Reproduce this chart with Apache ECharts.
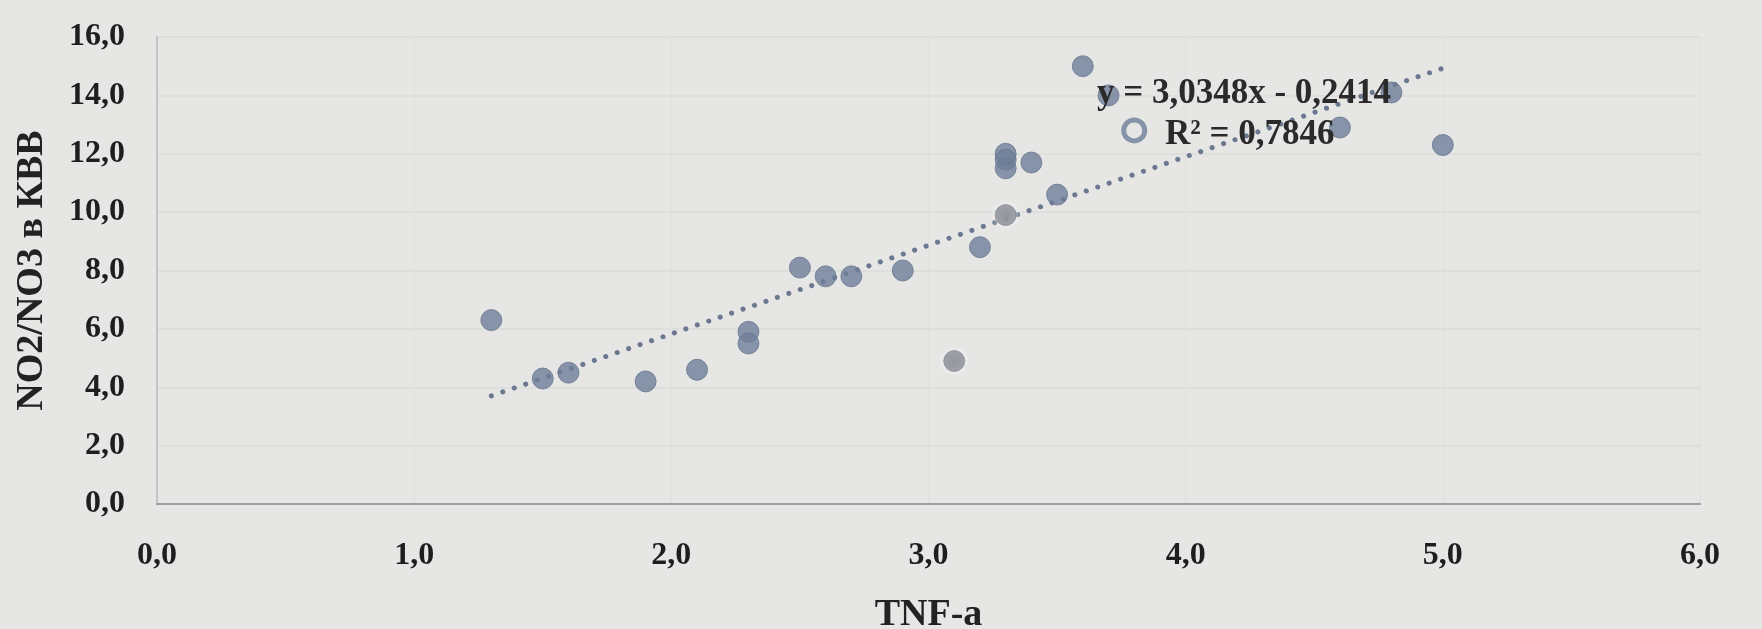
<!DOCTYPE html>
<html>
<head>
<meta charset="utf-8">
<script src="https://cdn.jsdelivr.net/npm/echarts@6/dist/echarts.min.js"></script>
<style>
  html, body { margin: 0; padding: 0; background: #e6e7e5; }
  #chart { width: 1762px; height: 629px; }
</style>
</head>
<body>
<div id="chart"></div>
<script>
// TNF-a against NO2/NO3 в КВВ, one point per sample
const tnfAlpha = [1.3, 1.5, 1.6, 1.9, 2.1, 2.3, 2.3, 2.5, 2.6, 2.7, 2.9, 3.1, 3.2,
                  3.3, 3.3, 3.3, 3.3, 3.4, 3.5, 3.6, 3.7, 3.8, 4.6, 4.8, 5.0];
const no2no3 = [6.3, 4.3, 4.5, 4.2, 4.6, 5.9, 5.5, 8.1, 7.8, 7.8, 8.0, 4.9, 8.8,
                9.9, 11.5, 11.8, 12.0, 11.7, 10.6, 15.0, 14.0, 12.8, 12.9, 14.1, 12.3];

// linear trend: y = slope * x + intercept
const trendSlope = 3.0348;
const trendIntercept = -0.2414;
const trendR2 = 0.7846;

const xTicks = [0, 1, 2, 3, 4, 5, 6];
const xTickLabels = ['0,0', '1,0', '2,0', '3,0', '4,0', '5,0', '6,0'];
const yTicks = [0, 2, 4, 6, 8, 10, 12, 14, 16];
const yTickLabels = ['0,0', '2,0', '4,0', '6,0', '8,0', '10,0', '12,0', '14,0', '16,0'];

// samples rendered in a softer grey tone, and one drawn as an open ring
const softPoints = [11, 13];
const ringPoints = [21];

const comma = (v, d) => v.toFixed(d).replace('.', ',');
const tickLabel = (ticks, labels) => v => {
  const i = ticks.findIndex(t => Math.abs(t - v) < 1e-9);
  return i >= 0 ? labels[i] : '';
};

const points = tnfAlpha.map((x, i) => {
  const p = { value: [x, no2no3[i]] };
  if (softPoints.includes(i)) {
    p.itemStyle = { color: '#7d8189', borderColor: '#8a8e95', shadowBlur: 6, shadowColor: 'rgba(255,255,255,0.9)' };
  } else if (ringPoints.includes(i)) {
    p.itemStyle = { color: '#e6e7e5', borderColor: '#6f7e99', borderWidth: 5 };
  }
  return p;
});

const xMin = Math.min(...tnfAlpha), xMax = Math.max(...tnfAlpha);
const trend = [xMin, xMax].map(x => [x, trendSlope * x + trendIntercept]);

const eqText = 'y = ' + comma(trendSlope, 4) + 'x ' + (trendIntercept < 0 ? '- ' : '+ ') +
               comma(Math.abs(trendIntercept), 4);
const r2Text = 'R² = ' + comma(trendR2, 4);

const serif = '"Liberation Serif", "DejaVu Serif", serif';
const chart = echarts.init(document.getElementById('chart'));

chart.setOption({
  backgroundColor: '#e6e7e5',
  animation: false,
  grid: { left: 157, right: 62, top: 37, bottom: 125, outerBoundsMode: 'none', containLabel: false },
  xAxis: {
    type: 'value', min: 0, max: 6, interval: 1,
    name: 'TNF-a', nameLocation: 'middle', nameGap: 92,
    nameTextStyle: { fontFamily: serif, fontWeight: 'bold', fontSize: 38, color: '#222' },
    axisLine: { show: true, lineStyle: { color: '#9c9d9c', width: 2 } },
    axisTick: { show: false },
    axisLabel: { formatter: tickLabel(xTicks, xTickLabels), margin: 36,
                 fontFamily: serif, fontWeight: 'bold', fontSize: 32, color: '#1e1e1e' },
    splitLine: { show: true, lineStyle: { color: '#e0e1df', width: 1 } }
  },
  yAxis: {
    type: 'value', min: 0, max: 16, interval: 2,
    name: 'NO2/NO3 в КВВ', nameLocation: 'middle', nameGap: 106, nameRotate: 90,
    nameTextStyle: { fontFamily: serif, fontWeight: 'bold', fontSize: 38, color: '#222' },
    axisLine: { show: true, lineStyle: { color: '#c3c4c3', width: 2 } },
    axisTick: { show: false },
    axisLabel: { formatter: tickLabel(yTicks, yTickLabels), margin: 32,
                 fontFamily: serif, fontWeight: 'bold', fontSize: 32, color: '#1e1e1e' },
    splitLine: { show: true, lineStyle: { color: '#dadcda', width: 1.5 } }
  },
  series: [
    {
      name: 'trend', type: 'line', data: trend, symbol: 'none', silent: true, z: 1,
      lineStyle: { color: '#6b7890', width: 5, type: [0.1, 12], cap: 'round' }
    },
    {
      name: 'samples', type: 'scatter', data: points, symbol: 'circle', symbolSize: 21, z: 3,
      itemStyle: { color: '#6f7e99', borderColor: '#67758f', borderWidth: 1 }
    }
  ],
  graphic: [
    { type: 'text', left: 1097, top: 76, z: 10,
      style: { text: eqText, font: 'bold 35px ' + serif, fill: '#2a2a2a' } },
    { type: 'text', left: 1165, top: 117, z: 10,
      style: { text: r2Text, font: 'bold 35px ' + serif, fill: '#2a2a2a' } }
  ]
});
</script>
</body>
</html>
